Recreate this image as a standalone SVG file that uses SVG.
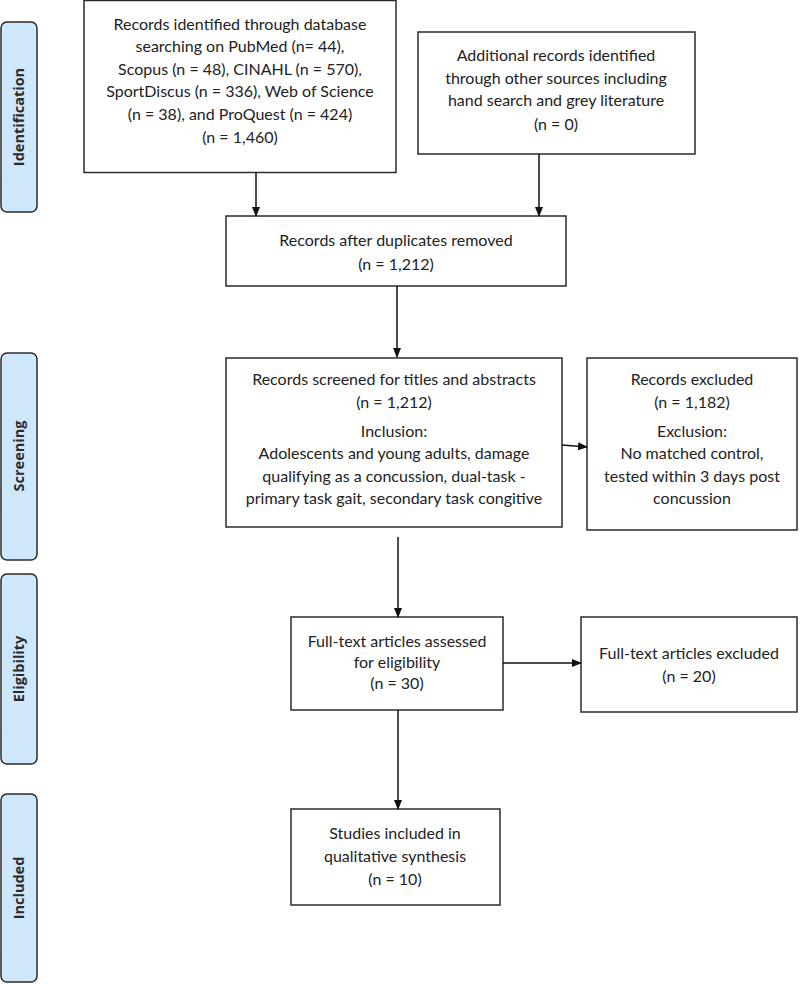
<svg xmlns="http://www.w3.org/2000/svg" width="800" height="984" viewBox="0 0 800 984">
<defs>
<marker id="ah" markerWidth="10" markerHeight="10" refX="9" refY="5" orient="auto" markerUnits="userSpaceOnUse">
<path d="M0,1 L10,5 L0,9 z" fill="#111"/>
</marker>
<style>
.box{fill:#fff;stroke:#2b2b2b;stroke-width:1.5}
.lab{fill:#cfe7fa;stroke:#2b2b2b;stroke-width:1.5}
.t{font-family:Lato,"Open Sans",sans-serif;font-size:16px;fill:#222;text-anchor:middle}
.lt{font-family:"Open Sans","DejaVu Sans",sans-serif;font-size:14.5px;font-weight:bold;fill:#2b2b2b;text-anchor:middle}
.c{stroke:#111;stroke-width:1.5;fill:none;marker-end:url(#ah)}
</style>
</defs>
<rect width="800" height="984" fill="#fff"/>
<g id="stage-identification"><rect class="lab" x="1" y="22" width="36" height="190" rx="6"/><text class="lt" transform="translate(24,117) rotate(-90)">Identification</text></g>
<g id="stage-screening"><rect class="lab" x="1" y="353" width="36" height="207" rx="6"/><text class="lt" transform="translate(24,456) rotate(-90)">Screening</text></g>
<g id="stage-eligibility"><rect class="lab" x="1" y="574" width="36" height="190" rx="6"/><text class="lt" transform="translate(24,669) rotate(-90)">Eligibility</text></g>
<g id="stage-included"><rect class="lab" x="1" y="794" width="36" height="188" rx="6"/><text class="lt" transform="translate(24,888) rotate(-90)">Included</text></g>

<g id="n-database"><rect class="box" x="84" y="0.5" width="312" height="172"/>
<text class="t" x="240"><tspan x="240" y="30">Records identified through database</tspan><tspan x="240" y="52">searching on PubMed (n= 44),</tspan><tspan x="240" y="75">Scopus (n = 48), CINAHL (n = 570),</tspan><tspan x="240" y="97">SportDiscus (n = 336), Web of Science</tspan><tspan x="240" y="120">(n = 38), and ProQuest (n = 424)</tspan><tspan x="240" y="143">(n = 1,460)</tspan></text></g>

<g id="n-additional"><rect class="box" x="418" y="32" width="277" height="122"/>
<text class="t"><tspan x="556" y="61">Additional records identified</tspan><tspan x="556" y="84">through other sources including</tspan><tspan x="556" y="106">hand search and grey literature</tspan><tspan x="556" y="130">(n = 0)</tspan></text></g>

<g id="n-duplicates"><rect class="box" x="226" y="216" width="340" height="70"/>
<text class="t"><tspan x="396" y="246">Records after duplicates removed</tspan><tspan x="396" y="270">(n = 1,212)</tspan></text></g>

<g id="n-screened"><rect class="box" x="226" y="358" width="336" height="169"/>
<text class="t"><tspan x="394" y="385">Records screened for titles and abstracts</tspan><tspan x="394" y="408">(n = 1,212)</tspan><tspan x="394" y="437">Inclusion:</tspan><tspan x="394" y="459">Adolescents and young adults, damage</tspan><tspan x="394" y="482">qualifying as a concussion, dual-task -</tspan><tspan x="394" y="504">primary task gait, secondary task congitive</tspan></text></g>

<g id="n-excluded"><rect class="box" x="587" y="358" width="210" height="172"/>
<text class="t"><tspan x="692" y="385">Records excluded</tspan><tspan x="692" y="408">(n = 1,182)</tspan><tspan x="692" y="437">Exclusion:</tspan><tspan x="692" y="459">No matched control,</tspan><tspan x="692" y="482">tested within 3 days post</tspan><tspan x="692" y="504">concussion</tspan></text></g>

<g id="n-fulltext"><rect class="box" x="291" y="617" width="212" height="93"/>
<text class="t"><tspan x="397" y="647">Full-text articles assessed</tspan><tspan x="397" y="668">for eligibility</tspan><tspan x="397" y="689">(n = 30)</tspan></text></g>

<g id="n-ftexcluded"><rect class="box" x="581" y="617" width="216" height="95"/>
<text class="t"><tspan x="689" y="659">Full-text articles excluded</tspan><tspan x="689" y="682">(n = 20)</tspan></text></g>

<g id="n-included"><rect class="box" x="291" y="809" width="209" height="96"/>
<text class="t"><tspan x="395" y="839">Studies included in</tspan><tspan x="395" y="862">qualitative synthesis</tspan><tspan x="395" y="885">(n = 10)</tspan></text></g>

<g id="connectors">
<path class="c" d="M256,172 V216"/>
<path class="c" d="M539,154 V216"/>
<path class="c" d="M397,286 V357"/>
<path class="c" d="M562,445 L587,447"/>
<path class="c" d="M398,537 V617"/>
<path class="c" d="M503,663 H581"/>
<path class="c" d="M398,710 V809"/>
</g>
</svg>
